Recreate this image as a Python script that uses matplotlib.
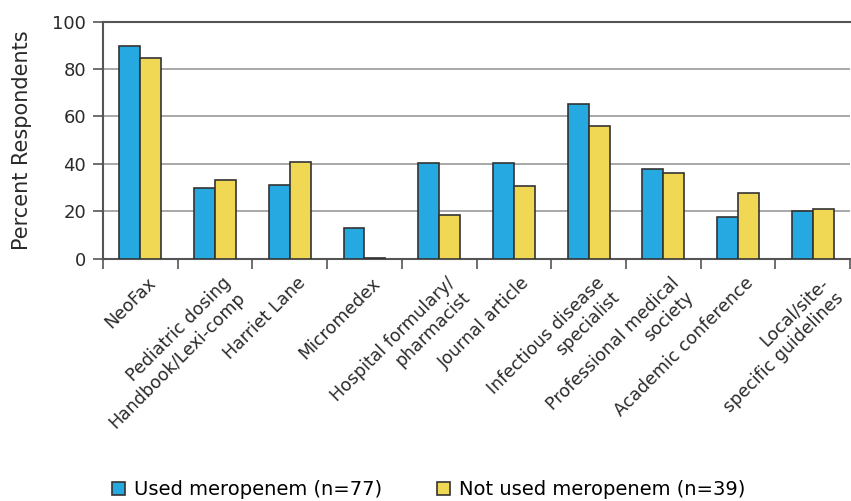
import matplotlib
matplotlib.use("Agg")
import matplotlib.pyplot as plt
import numpy as np
from matplotlib.patches import Patch

categories = ["NeoFax", "Pediatric dosing\nHandbook/Lexi-comp", "Harriet Lane", "Micromedex",
              "Hospital formulary/\npharmacist", "Journal article", "Infectious disease\nspecialist",
              "Professional medical\nsociety", "Academic conference", "Local/site-\nspecific guidelines"]
used = [89.6, 29.9, 31.2, 13.0, 40.3, 40.3, 65.4, 37.7, 17.5, 19.9]
not_used = [84.6, 33.3, 40.6, 0.3, 18.5, 30.8, 56.1, 35.9, 27.8, 21.1]
series_labels = ["Used meropenem (n=77)", "Not used meropenem (n=39)"]
yticks = [0, 20, 40, 60, 80, 100]

blue = "#25A9E0"
yellow = "#F0D855"
edge = "#333333"
txt = "#2a2a2a"

plt.rcParams['font.family'] = ['DejaVu Sans']

fig = plt.figure(figsize=(8.51, 5.01), dpi=100)
ax = fig.add_axes([0.121, 0.484, 0.878, 0.473])

x = np.arange(len(categories))
w = 0.28
ax.bar(x - w/2, used, w, color=blue, edgecolor=edge, linewidth=1.2, zorder=3)
ax.bar(x + w/2, not_used, w, color=yellow, edgecolor=edge, linewidth=1.2, zorder=3)

ax.set_xlim(-0.5, len(categories) - 0.5)
ax.set_ylim(0, 100)
ax.set_yticks(yticks)
ax.set_yticklabels([str(v) for v in yticks], fontsize=13, color=txt)
for v in yticks[1:-1]:
    ax.axhline(v, color="#999999", linewidth=1.2, zorder=1)
ax.axhline(100, color="#555555", linewidth=1.5, zorder=1, clip_on=False)

ax.set_xticks(np.arange(len(categories) + 1) - 0.5)
ax.set_xticklabels([])
ax.tick_params(axis='x', length=7, color="#555555", width=1.2, direction='out')
ax.tick_params(axis='y', length=7, color="#555555", width=1.2, direction='out', pad=5)

for i, lab in enumerate(categories):
    ax.text(i + 0.09, -6.5, lab, rotation=45, rotation_mode='anchor', ha='right', va='top',
            multialignment='right', fontsize=12.5, color=txt,
            transform=ax.transData, clip_on=False, linespacing=1.2)

for s in ['top', 'right']:
    ax.spines[s].set_visible(False)
ax.spines['left'].set_color("#555555")
ax.spines['bottom'].set_color("#555555")
ax.spines['left'].set_linewidth(1.5)
ax.spines['bottom'].set_linewidth(1.5)

ax.set_ylabel("Percent Respondents", fontsize=15, color=txt, labelpad=15)

handles = [Patch(facecolor=blue, edgecolor=edge, linewidth=1.2),
           Patch(facecolor=yellow, edgecolor=edge, linewidth=1.2)]
fig.legend(handles, series_labels, loc='lower left', bbox_to_anchor=(0.118, -0.02), ncol=2,
           frameon=False, fontsize=14, handlelength=0.65, handleheight=0.65,
           handletextpad=0.5, columnspacing=2.8, borderaxespad=0.2)

fig.savefig("out.png", dpi=100)
